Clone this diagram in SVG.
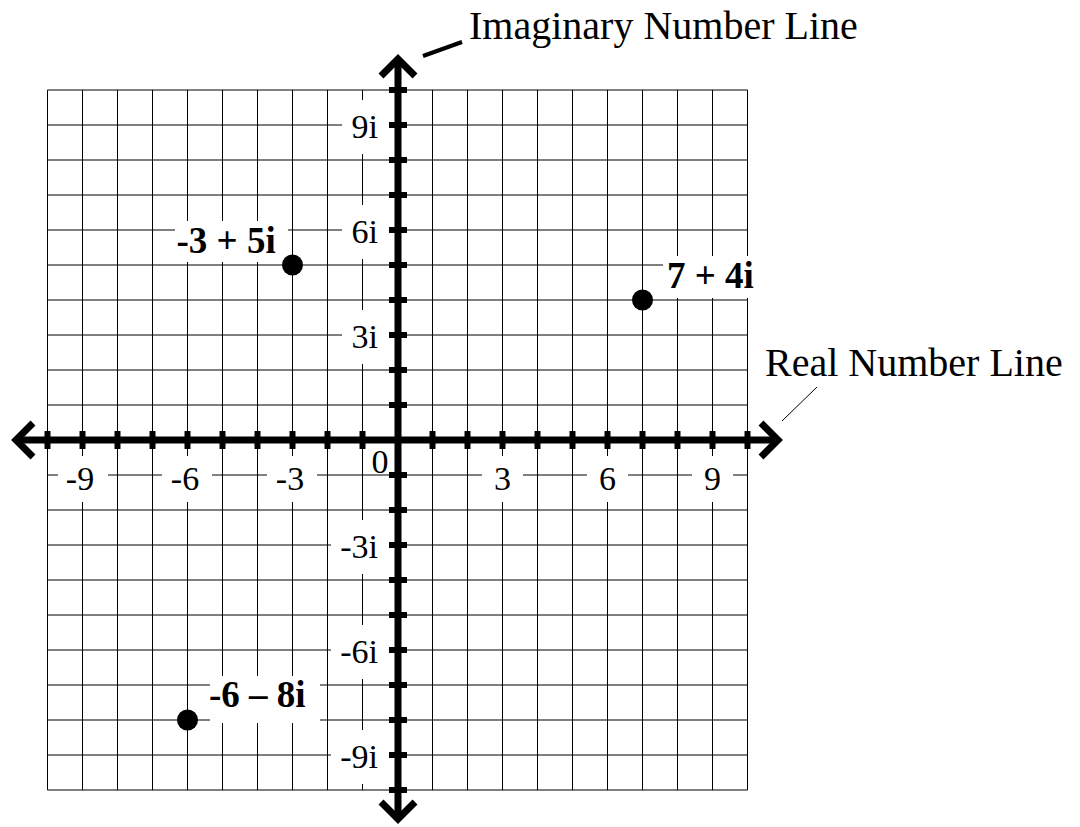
<svg xmlns="http://www.w3.org/2000/svg" width="1080" height="827" viewBox="0 0 1080 827">
<style>
.grid{stroke:#000;stroke-width:1;fill:none}
.axis{stroke:#000;stroke-width:7;fill:none}
.arrow{stroke:#000;stroke-width:7;fill:none;stroke-linecap:butt;stroke-linejoin:miter;stroke-miterlimit:10}
.tick{fill:#000}
.bg{fill:#fff}
.lbl{font-family:"Liberation Serif","Times New Roman",serif;font-size:34px;fill:#000}
.title{font-family:"Liberation Serif","Times New Roman",serif;font-size:40px;fill:#000}
.pt{font-family:"Liberation Serif","Times New Roman",serif;font-size:37px;font-weight:bold;fill:#000}
</style>
<rect width="1080" height="827" fill="#fff"/>
<g id="grid" class="grid">
<path d="M47.5 90V790M82.5 90V790M117.5 90V790M152.5 90V790M187.5 90V790M222.5 90V790M257.5 90V790M292.5 90V790M327.5 90V790M362.5 90V790M397.5 90V790M432.5 90V790M467.5 90V790M502.5 90V790M537.5 90V790M572.5 90V790M607.5 90V790M642.5 90V790M677.5 90V790M712.5 90V790M747.5 90V790"/>
<path d="M47.5 90H747.5M47.5 125H747.5M47.5 160H747.5M47.5 195H747.5M47.5 230H747.5M47.5 265H747.5M47.5 300H747.5M47.5 335H747.5M47.5 370H747.5M47.5 405H747.5M47.5 440H747.5M47.5 475H747.5M47.5 510H747.5M47.5 545H747.5M47.5 580H747.5M47.5 615H747.5M47.5 650H747.5M47.5 685H747.5M47.5 720H747.5M47.5 755H747.5M47.5 790H747.5"/>
</g>
<g id="label-backgrounds" class="bg">
<rect x="58" y="456" width="50" height="46"/>
<rect x="162" y="456" width="50" height="46"/>
<rect x="267" y="456" width="50" height="46"/>
<rect x="482" y="456" width="41" height="46"/>
<rect x="587" y="456" width="41" height="46"/>
<rect x="692" y="456" width="41" height="46"/>
<rect x="342" y="100" width="49" height="54"/>
<rect x="342" y="205" width="49" height="54"/>
<rect x="342" y="310" width="49" height="54"/>
<rect x="331" y="520" width="60" height="54"/>
<rect x="331" y="625" width="60" height="54"/>
<rect x="331" y="730" width="60" height="54"/>
<rect x="175" y="221" width="113" height="41"/>
<rect x="663" y="256" width="97" height="42"/>
<rect x="210" y="676" width="110" height="47"/>
</g>
<g id="connectors">
<g id="real-axis">
<path class="axis" d="M16 440H778"/>
<polyline class="arrow" points="33,423 16,440 33,457"/>
<polyline class="arrow" points="761,423 778,440 761,457"/>
<g class="tick">
<rect x="44.5" y="431" width="6" height="18"/><rect x="79.5" y="431" width="6" height="18"/><rect x="114.5" y="431" width="6" height="18"/><rect x="149.5" y="431" width="6" height="18"/><rect x="184.5" y="431" width="6" height="18"/><rect x="219.5" y="431" width="6" height="18"/><rect x="254.5" y="431" width="6" height="18"/><rect x="289.5" y="431" width="6" height="18"/><rect x="324.5" y="431" width="6" height="18"/><rect x="359.5" y="431" width="6" height="18"/>
<rect x="429.5" y="431" width="6" height="18"/><rect x="464.5" y="431" width="6" height="18"/><rect x="499.5" y="431" width="6" height="18"/><rect x="534.5" y="431" width="6" height="18"/><rect x="569.5" y="431" width="6" height="18"/><rect x="604.5" y="431" width="6" height="18"/><rect x="639.5" y="431" width="6" height="18"/><rect x="674.5" y="431" width="6" height="18"/><rect x="709.5" y="431" width="6" height="18"/><rect x="744.5" y="431" width="6" height="18"/>
</g>
</g>
<g id="imaginary-axis">
<path class="axis" d="M398 59V819"/>
<polyline class="arrow" points="381,76 398,59 415,76"/>
<polyline class="arrow" points="381,802 398,819 415,802"/>
<g class="tick">
<rect x="389" y="87" width="18" height="6"/><rect x="389" y="122" width="18" height="6"/><rect x="389" y="157" width="18" height="6"/><rect x="389" y="192" width="18" height="6"/><rect x="389" y="227" width="18" height="6"/><rect x="389" y="262" width="18" height="6"/><rect x="389" y="297" width="18" height="6"/><rect x="389" y="332" width="18" height="6"/><rect x="389" y="367" width="18" height="6"/><rect x="389" y="402" width="18" height="6"/>
<rect x="389" y="472" width="18" height="6"/><rect x="389" y="507" width="18" height="6"/><rect x="389" y="542" width="18" height="6"/><rect x="389" y="577" width="18" height="6"/><rect x="389" y="612" width="18" height="6"/><rect x="389" y="647" width="18" height="6"/><rect x="389" y="682" width="18" height="6"/><rect x="389" y="717" width="18" height="6"/><rect x="389" y="752" width="18" height="6"/><rect x="389" y="787" width="18" height="6"/>
</g>
</g>
<path id="imaginary-leader" d="M423 56L462 42" stroke="#000" stroke-width="4" fill="none"/>
<path id="real-leader" d="M782 421L817 387" stroke="#000" stroke-width="1" fill="none"/>
</g>
<g id="tick-labels" class="lbl">
<text x="80" y="490" text-anchor="middle">-9</text>
<text x="185" y="490" text-anchor="middle">-6</text>
<text x="290" y="490" text-anchor="middle">-3</text>
<text x="380" y="473" text-anchor="middle">0</text>
<text x="502.5" y="490" text-anchor="middle">3</text>
<text x="607.5" y="490" text-anchor="middle">6</text>
<text x="712.5" y="490" text-anchor="middle">9</text>
<text x="378" y="138" text-anchor="end">9i</text>
<text x="378" y="243" text-anchor="end">6i</text>
<text x="378" y="348" text-anchor="end">3i</text>
<text x="378" y="558" text-anchor="end">-3i</text>
<text x="378" y="663" text-anchor="end">-6i</text>
<text x="378" y="768" text-anchor="end">-9i</text>
</g>
<g id="axis-titles" class="title">
<text id="imaginary-title" x="469" y="39">Imaginary Number Line</text>
<text id="real-title" x="765" y="376">Real Number Line</text>
</g>
<g id="point-1">
<circle cx="292.5" cy="265" r="10.5" fill="#000"/>
<text class="pt" x="176.5" y="253">-3 + 5i</text>
</g>
<g id="point-2">
<circle cx="642.5" cy="300" r="10.5" fill="#000"/>
<text class="pt" x="667" y="288">7 + 4i</text>
</g>
<g id="point-3">
<circle cx="187.5" cy="720" r="10.5" fill="#000"/>
<text class="pt" x="209" y="707">-6 – 8i</text>
</g>
</svg>
